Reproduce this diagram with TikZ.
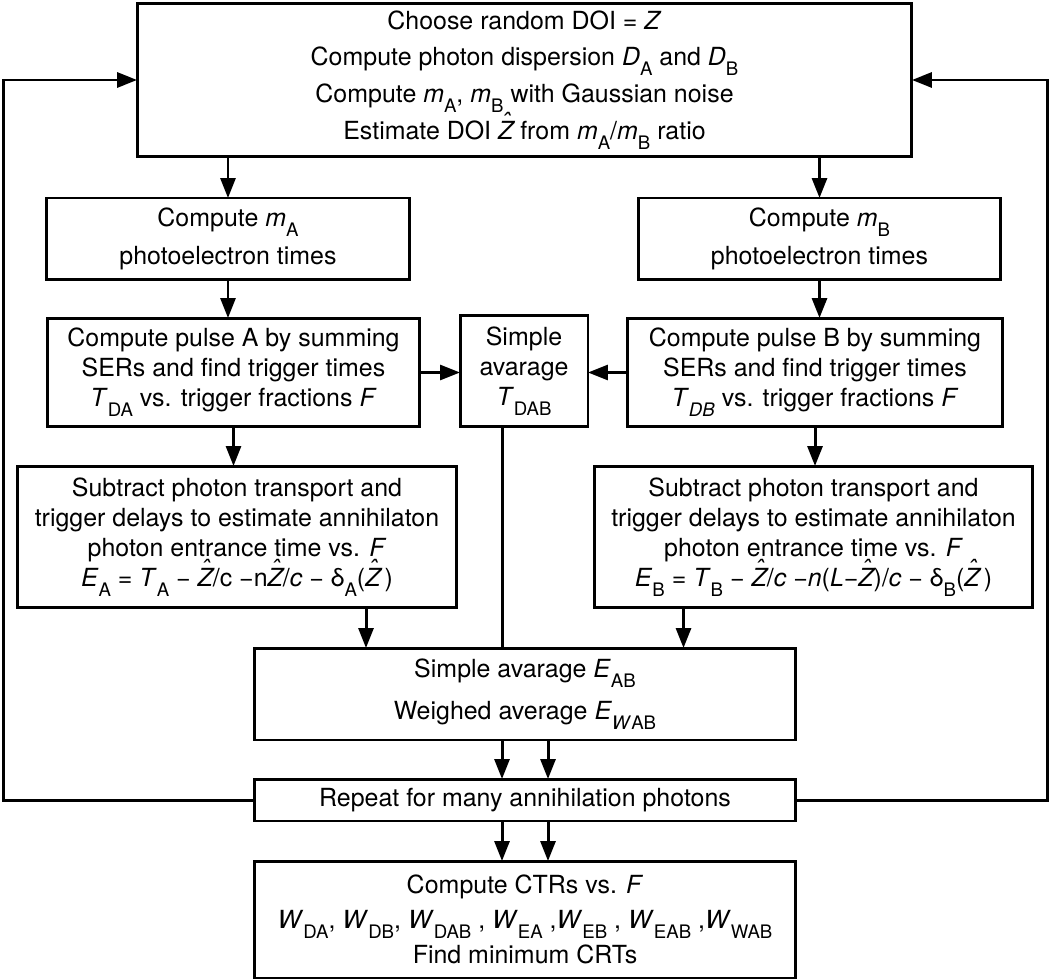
\documentclass[tikz,border=0pt]{standalone}
\usepackage{fontspec}
\setmainfont{TeX Gyre Heros}
\usepackage{tikz}
\usetikzlibrary{arrows.meta,positioning,calc}
\tikzset{arrow/.style={draw, -{Triangle[length=0.4cm,width=0.3cm]}}}
\tikzset{block/.style={draw, rectangle, align=center, inner sep=0pt, outer sep=0pt}}
% lowered subscripts, upright as in the figure
\newcommand{\lo}[1]{\raisebox{-0.4em}{\fontsize{10.6pt}{11pt}\selectfont #1}}
\newcommand{\zhat}{\textit{\ooalign{Z\cr\hidewidth\smash{\raisebox{0.36em}{ˆ}}\hidewidth\cr}}}

\begin{document}
\begin{tikzpicture}[x=0.02cm, y=-0.02cm, line width=1.7pt,
                every node/.style={font=\fontsize{14.2pt}{17pt}\selectfont}]
    \useasboundingbox (0,0) rectangle (1050,979);

    % Define Nodes
    \node (top) [block, minimum width=15.5cm, minimum height=3.08cm] at (524.5,80)
        {Choose random DOI = \textit{Z}\\[0.14cm]
         Compute photon dispersion \textit{D}\lo{A} and \textit{D}\lo{B}\\[0.14cm]
         Compute \textit{m}\lo{A}, \textit{m}\lo{B} with Gaussian noise\\[0.14cm]
         Estimate DOI \zhat\ from \textit{m}\lo{A}/\textit{m}\lo{B} ratio};

    \node (mA) [block, minimum width=7.28cm, minimum height=1.64cm] at (228,239)
        {Compute \textit{m}\lo{A}\\[0.16cm] photoelectron times};
    \node (mB) [block, minimum width=7.26cm, minimum height=1.64cm] at (819.5,239)
        {Compute \textit{m}\lo{B}\\[0.16cm] photoelectron times};

    \node (pulseA) [block, minimum width=7.46cm, minimum height=2.18cm] at (233.5,372.5)
        {Compute pulse A by summing\\ SERs and find trigger times\\
         \textit{T}\lo{DA} vs. trigger fractions \textit{F}};
    \node (avgT) [block, minimum width=2.56cm, minimum height=2.24cm] at (524,371)
        {Simple\\ avarage\\ \textit{T}\lo{DAB}};
    \node (pulseB) [block, minimum width=7.52cm, minimum height=2.18cm] at (815,372.5)
        {Compute pulse B by summing\\ SERs and find trigger times\\
         \textit{T}\lo{\textit{DB}} vs. trigger fractions \textit{F}};

    \node (subA) [block, minimum width=8.8cm, minimum height=2.84cm] at (237,537)
        {Subtract photon transport and\\ trigger delays to estimate annihilaton\\
         photon entrance time vs. \textit{F}\\
         \textit{E}\lo{A} = \textit{T}\lo{A} − \zhat/c −n\zhat/\textit{c} − δ\lo{A}(\zhat\,)};
    \node (subB) [block, minimum width=8.78cm, minimum height=2.84cm] at (813.5,537)
        {Subtract photon transport and\\ trigger delays to estimate annihilaton\\
         photon entrance time vs. \textit{F}\\
         \textit{E}\lo{B} = \textit{T}\lo{B} − \zhat/\textit{c} −\textit{n}(\textit{L}−\zhat)/\textit{c} − δ\lo{B}(\zhat\,)};

    \node (avgE) [block, minimum width=10.84cm, minimum height=1.84cm] at (525,694)
        {Simple avarage \textit{E}\lo{AB}\\[0.24cm] Weighed average \textit{E}\lo{\textit{W}AB}};
    \node (repeat) [block, minimum width=10.84cm, minimum height=0.84cm] at (525,800)
        {Repeat for many annihilation photons};
    \node (ctr) [block, minimum width=10.84cm, minimum height=2.34cm] at (525,919.5)
        {Compute CTRs vs. \textit{F}\\[0.1cm]
         \textit{W}\lo{DA}, \textit{W}\lo{DB}, \textit{W}\lo{DAB} , \textit{W}\lo{EA} ,\textit{W}\lo{EB} , \textit{W}\lo{EAB} ,\textit{W}\lo{WAB}\\[0.1cm]
         Find minimum CRTs};

    % foot points of the lines into the averages
    \coordinate (tfoot) at ($(avgT.south)+(-22,0)$);
    \coordinate (afoot) at ($(subA.south)+(129,0)$);
    \coordinate (bfoot) at ($(subB.south)+(-130,0)$);

    % Draw Arrows
    \draw[arrow] (top.south -| mA.north) -- (mA.north);
    \draw[arrow] (top.south -| mB.north) -- (mB.north);
    \draw[arrow] (mA.south) -- (mA.south |- pulseA.north);
    \draw[arrow] (mB.south) -- (mB.south |- pulseB.north);
    \draw[arrow] (pulseA.east) -- (pulseA.east -| avgT.west);
    \draw[arrow] (pulseB.west) -- (pulseB.west -| avgT.east);
    \draw[arrow] (pulseA.south) -- (pulseA.south |- subA.north);
    \draw[arrow] (pulseB.south) -- (pulseB.south |- subB.north);

    % into the averages
    \draw (tfoot) -- (tfoot |- avgE.north);
    \draw[arrow] (afoot) -- (afoot |- avgE.north);
    \draw[arrow] (bfoot) -- (bfoot |- avgE.north);
    \draw[arrow] ($(avgE.south)+(-23,0)$) -- ($(repeat.north)+(-23,0)$);
    \draw[arrow] ($(avgE.south)+(23,0)$) -- ($(repeat.north)+(23,0)$);
    \draw[arrow] ($(repeat.south)+(-23,0)$) -- ($(ctr.north)+(-23,0)$);
    \draw[arrow] ($(repeat.south)+(23,0)$) -- ($(ctr.north)+(23,0)$);

    % Loop back to the start
    \draw[arrow] (repeat.west) -- ++(-251,0) |- (top.west);
    \draw[arrow] (repeat.east) -- ++(252,0) |- (top.east);
\end{tikzpicture}
\end{document}
